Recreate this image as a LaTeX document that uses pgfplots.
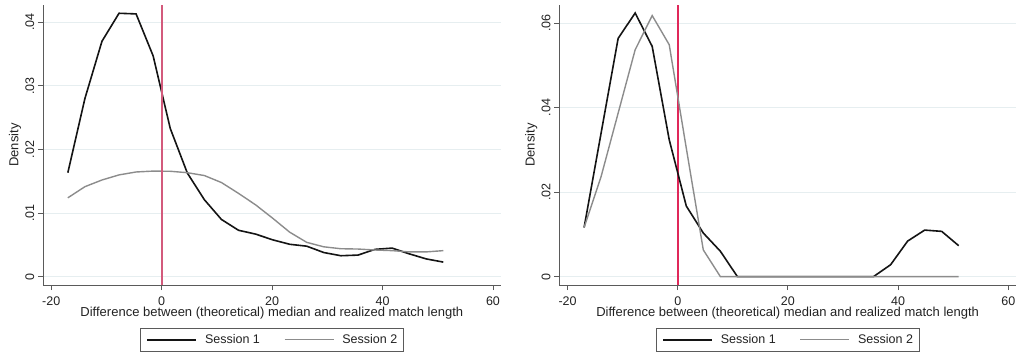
\documentclass[border=0pt]{standalone}
\usepackage{pgfplots}
\pgfplotsset{compat=1.18}
\usepackage{fontspec}
\setmainfont{Liberation Sans}
\definecolor{sone}{HTML}{141414}
\definecolor{stwo}{HTML}{8C8C8C}
\definecolor{vlineleft}{HTML}{D35A7C}
\definecolor{vlineright}{HTML}{E0285A}
\definecolor{gridc}{HTML}{E6EEF0}
\definecolor{axc}{HTML}{5A5A5A}
\definecolor{txt}{HTML}{222222}

\pgfplotstableread{
x y
-17 0.01635
-13.91 0.0280
-10.82 0.0370
-7.73 0.0414
-4.64 0.0413
-1.55 0.0347
1.55 0.0233
4.64 0.0163
7.73 0.0121
10.82 0.0090
13.91 0.0073
17 0.0067
20.09 0.0058
23.18 0.0051
26.27 0.0048
29.36 0.0038
32.45 0.0033
35.55 0.0034
38.64 0.0043
41.73 0.0045
44.82 0.0036
47.91 0.0028
51 0.0023
}\leftone
\pgfplotstableread{
x y
-17 0.0124
-13.91 0.01415
-10.82 0.0152
-7.73 0.0160
-4.64 0.01646
-1.55 0.0166
1.55 0.01657
4.64 0.01635
7.73 0.0159
10.82 0.0148
13.91 0.0131
17 0.0113
20.09 0.0092
23.18 0.0070
26.27 0.0054
29.36 0.0047
32.45 0.0044
35.55 0.00435
38.64 0.0042
41.73 0.0041
44.82 0.0039
47.91 0.0039
51 0.0041
}\lefttwo
\pgfplotstableread{
x y
-17 0.0116
-13.91 0.034
-10.82 0.0564
-7.73 0.0624
-4.64 0.0545
-1.55 0.0324
1.55 0.0167
4.64 0.0103
7.73 0.0060
10.82 0
13.91 0
17 0
20.09 0
23.18 0
26.27 0
29.36 0
32.45 0
35.55 0
38.64 0.0028
41.73 0.0084
44.82 0.0110
47.91 0.0107
51 0.0073
}\rightone
\pgfplotstableread{
x y
-17 0.0116
-13.91 0.0237
-10.82 0.0387
-7.73 0.0537
-4.64 0.0618
-1.55 0.0549
1.55 0.0304
4.64 0.0063
7.73 0
10.82 0
13.91 0
17 0
20.09 0
23.18 0
26.27 0
29.36 0
32.45 0
35.55 0
38.64 0
41.73 0
44.82 0
47.91 0
51 0
}\righttwo

\pgfplotsset{
  stata/.style={
    anchor=south west, scale only axis, height=280bp,
    xmin=-21.5, xmax=61.4,
    axis x line=bottom, axis y line=left,
    axis line style={draw=axc, line width=0.9bp, -},
    tick align=outside, major tick length=5bp,
    tick style={draw=axc, line width=0.9bp},
    minor tick num=0,
    scaled y ticks=false, scaled x ticks=false,
    xtick={-20,0,20,40,60}, xticklabels={-20,0,20,40,60},
    xticklabel style={inner sep=0pt, anchor=north, font=\fontsize{12.5bp}{14bp}\selectfont, text=txt},
    xticklabel shift=6.5bp,
    yticklabel style={inner sep=0pt, rotate=90, anchor=south, font=\fontsize{12.5bp}{14bp}\selectfont, text=txt},
    yticklabel shift=3.5bp,
    ymajorgrids, grid style={draw=gridc, line width=0.9bp},
    xlabel={Difference between (theoretical) median and realized match length},
    ylabel={Density},
    label style={font=\fontsize{13bp}{15bp}\selectfont, text=txt},
    xlabel style={at={(axis description cs:0.5,-0.1)}, anchor=center},
    ylabel style={at={(axis description cs:-0.0612,0.5)}, anchor=center, rotate=0},
    legend columns=2,
    legend style={at={(axis description cs:0.5,0)}, anchor=north, yshift=-43bp,
      draw=axc, line width=0.9bp, inner xsep=6bp, inner ysep=6bp,
      font=\fontsize{12.5bp}{14bp}\selectfont, text=txt,
      nodes={inner sep=0pt},
      column sep=8bp,
      /tikz/every even column/.append style={column sep=24bp}},
    legend image code/.code={\draw[##1] (0bp,0bp) -- (49bp,0bp);},
  }
}

\begin{document}
\begin{tikzpicture}
\useasboundingbox (0,0) rectangle (1022bp,354bp);
\begin{axis}[stata, at={(43bp,69bp)}, width=457.7bp,
  ymin=-0.0013, ymax=0.0427,
  ytick={0,0.01,0.02,0.03,0.04}, yticklabels={0,.01,.02,.03,.04}]
\addplot[sone, line width=1.6bp] table[x=x,y=y] {\leftone};
\addlegendentry{Session 1}
\addplot[stwo, line width=1.4bp] table[x=x,y=y] {\lefttwo};
\addlegendentry{Session 2}
\addplot[draw=vlineleft, line width=1.7bp, forget plot] coordinates {(0,-0.0013) (0,0.0427)};
\end{axis}
\begin{axis}[stata, at={(559.3bp,69bp)}, width=456.7bp,
  ymin=-0.002, ymax=0.0643,
  ytick={0,0.02,0.04,0.06}, yticklabels={0,.02,.04,.06}]
\addplot[draw=vlineright, line width=1.5bp, forget plot] coordinates {(0,-0.002) (0,0.0643)};
\addplot[sone, line width=1.6bp] table[x=x,y=y] {\rightone};
\addlegendentry{Session 1}
\addplot[stwo, line width=1.4bp] table[x=x,y=y] {\righttwo};
\addlegendentry{Session 2}
\end{axis}
\end{tikzpicture}
\end{document}
